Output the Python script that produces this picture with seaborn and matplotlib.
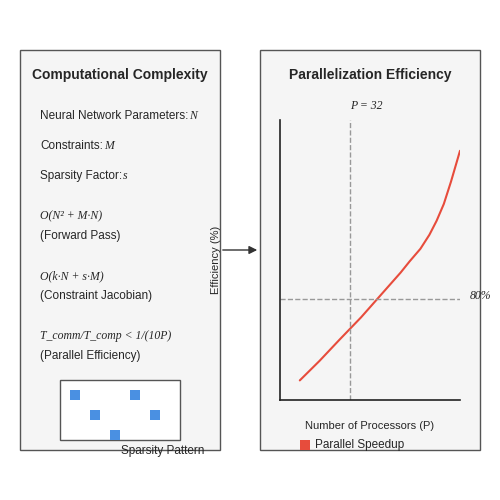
import matplotlib
matplotlib.use("Agg")
import matplotlib.pyplot as plt
import seaborn as sns
import pandas as pd
from matplotlib.patches import Rectangle, FancyArrowPatch

sns.set_style("white")
plt.rcParams['font.family'] = ['Liberation Sans', 'DejaVu Sans']

# data
proc_x = [11, 22, 33, 45, 56, 67, 72, 78, 83, 87, 91, 95, 100]
eff_y = [7, 14, 21.5, 29.5, 37.5, 45.5, 49.5, 54, 59, 64, 70, 78, 89]
p_line = 39
eff_line = 36
sparse_x = [75, 135, 95, 155, 115]
sparse_y = [395, 395, 415, 415, 435]

fig = plt.figure(figsize=(5, 5), dpi=100)
bg = fig.add_axes([0, 0, 1, 1])
bg.set_xlim(0, 500); bg.set_ylim(500, 0); bg.axis('off')

for x0, w in [(20, 200), (260, 220)]:
    bg.add_patch(Rectangle((x0, 50), w, 400, facecolor='#f5f5f5', edgecolor='#555555', lw=1))
bg.text(120, 75, "Computational Complexity", ha='center', va='center', fontsize=10, fontweight='bold')
bg.text(370, 75, "Parallelization Efficiency", ha='center', va='center', fontsize=10, fontweight='bold')

serif = dict(family=['Liberation Serif', 'DejaVu Serif'], style='italic', fontsize=8.5)
def line(y, a, b=None):
    t = bg.text(40, y, a, va='center', fontsize=8.5)
    if b:
        fig.canvas.draw()
        bb = t.get_window_extent()
        bg.text(bb.x1 + 1, y, b, va='center', transform=matplotlib.transforms.blended_transform_factory(matplotlib.transforms.IdentityTransform(), bg.transData), **serif)
line(116, "Neural Network Parameters:", "N")
line(146, "Constraints:", "M")
line(176, "Sparsity Factor:", "s")
bg.text(40, 216, "O(N² + M·N)", va='center', **serif)
line(236, "(Forward Pass)")
bg.text(40, 276, "O(k·N + s·M)", va='center', **serif)
line(296, "(Constraint Jacobian)")
bg.text(40, 336, "T_comm/T_comp < 1/(10P)", va='center', **serif)
line(356, "(Parallel Efficiency)")

bg.add_patch(Rectangle((60, 380), 120, 60, facecolor='white', edgecolor='#555555', lw=1))
sns.scatterplot(x=sparse_x, y=sparse_y, ax=bg, marker='s', s=60, color='#4a90e2', edgecolor='none', zorder=3)
bg.text(163, 451, "Sparsity Pattern", ha='center', va='center', fontsize=8.5)

bg.add_patch(FancyArrowPatch((220, 250), (260, 250), arrowstyle='-|>', mutation_scale=12, color='#333333', lw=1))
bg.text(216, 260, "Efficiency (%)", rotation=90, ha='center', va='center', fontsize=8)

bg.text(366, 106, "P = 32", ha='center', va='center', **serif)
bg.text(470, 296, "80%", ha='left', va='center', **serif)
bg.text(370, 426, "Number of Processors (P)", ha='center', va='center', fontsize=8)
bg.add_patch(Rectangle((300, 440), 10, 10, facecolor='#e74c3c', edgecolor='none'))
bg.text(315, 445, "Parallel Speedup", va='center', fontsize=8.5)

ax = fig.add_axes([0.56, 0.2, 0.36, 0.56])
ax.patch.set_alpha(0)
df = pd.DataFrame({'P': proc_x, 'E': eff_y})
sns.lineplot(data=df, x='P', y='E', ax=ax, color='#e74c3c', lw=1.5)
ax.axvline(p_line, color='#999999', ls='--', lw=1)
ax.axhline(eff_line, color='#999999', ls='--', lw=1)
ax.set_xlim(0, 100); ax.set_ylim(0, 100)
ax.set_xticks([]); ax.set_yticks([]); ax.set_xlabel(''); ax.set_ylabel('')
for s in ['top', 'right']:
    ax.spines[s].set_visible(False)
for s in ['left', 'bottom']:
    ax.spines[s].set_color('#222222')
    ax.spines[s].set_linewidth(1.2)

fig.savefig("out.png", dpi=100, facecolor='white')
